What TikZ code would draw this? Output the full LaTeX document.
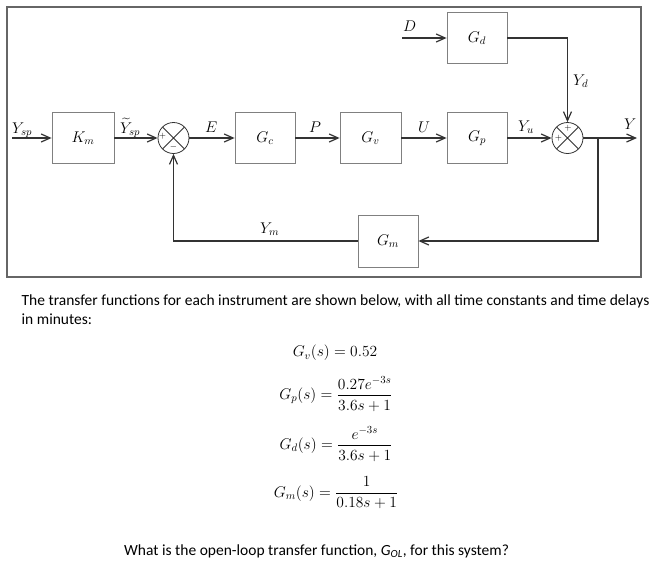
\RequirePackage{fix-cm}
\documentclass[tikz,border=0pt]{standalone}
\usepackage{amsmath}
\usepackage{fontspec}
\newfontfamily\carl{Carlito}
\usetikzlibrary{arrows.meta}
\begin{document}
\begin{tikzpicture}[x=1pt,y=-1pt,
  blk/.style={draw=black!50, line width=0.8pt, minimum width=60pt, minimum height=51pt, inner sep=0pt, font=\fontsize{15.5}{18}\selectfont},
  sig/.style={draw=black!80, line width=1.2pt},
  arr/.style={sig, -{Straight Barb[length=9pt,width=8pt]}},
  sumj/.style={circle, draw=black!80, line width=0.8pt, minimum size=31pt, inner sep=0pt,
    path picture={\draw[black!80,line width=0.8pt]
      (path picture bounding box.north west) -- (path picture bounding box.south east)
      (path picture bounding box.north east) -- (path picture bounding box.south west);}},
  lbl/.style={anchor=base west, inner sep=0pt, font=\fontsize{15.5}{18}\selectfont},
  sgn/.style={inner sep=0pt, font=\fontsize{9}{9}\selectfont},
  txt/.style={anchor=base west, inner sep=0pt, font=\carl\fontsize{15.5}{18}\selectfont},
  eqn/.style={inner sep=0pt, font=\fontsize{15.5}{18}\selectfont},
]
\useasboundingbox (0,0) rectangle (662,574);
\fill[white] (0,0) rectangle (662,574);
% frame
\draw[draw=black!60, line width=1.6pt] (7,7) rectangle (641,277);
% blocks
\node[blk, minimum width=62pt] (km) at (83,138) {$K_m$};
\node[blk] (gc) at (265,138) {$G_c$};
\node[blk, minimum width=61pt] (gv) at (370.5,138) {$G_v$};
\node[blk] (gp) at (477,138) {$G_p$};
\node[blk] (gd) at (477,38) {$G_d$};
\node[blk, minimum height=52pt] (gm) at (388,241) {$G_m$};
% summing junctions
\node[sumj] (s1) at (173.5,138) {};
\node[sumj] (s2) at (567.5,138) {};
\node[sgn] (s1p) at (162.5,136.5) {$+$};
\node[sgn] (s1m) at (173.5,147) {$-$};
\node[sgn] (s2t) at (568,128) {$+$};
\node[sgn] (s2l) at (558.5,138.5) {$+$};
% free ends
\coordinate (in) at (12,138);
\coordinate (out) at (637,138);
\coordinate (br) at (598,138);
\coordinate (din) at (402,38);
% connectors
\draw[arr] (in) -- (km);
\draw[arr] (km) -- (s1);
\draw[arr] (s1) -- (gc);
\draw[arr] (gc) -- (gv);
\draw[arr] (gv) -- (gp);
\draw[arr] (gp) -- (s2);
\draw[arr] (s2) -- (out);
\draw[arr] (br) |- (gm);
\draw[arr] (gm) -| (s1);
\draw[arr] (din) -- (gd);
\draw[arr] (gd) -| (s2);
% signal labels
\node[lbl] (lysp) at (12,133) {$Y_{sp}$};
\node[lbl] (lytsp) at (120,133) {$\widetilde{Y}_{sp}$};
\node[lbl] (le) at (205,132) {$E$};
\node[lbl] (lp) at (309,132) {$P$};
\node[lbl] (lu) at (418,132) {$U$};
\node[lbl] (lyu) at (518,131) {$Y_u$};
\node[lbl] (ly) at (624,129) {$Y$};
\node[lbl] (ld) at (403,31) {$D$};
\node[lbl] (lyd) at (573,85) {$Y_d$};
\node[lbl] (lym) at (260,233) {$Y_m$};
% text
\node[txt] (t1) at (21.5,305) {The transfer functions for each instrument are shown below, with all time constants and time delays};
\node[txt] (t2) at (21.5,324) {in minutes:};
\node[eqn] (e1) at (335,353) {$G_v(s) = 0.52$};
\node[eqn] (e2) at (336,394) {$G_p(s) = \dfrac{0.27e^{-3s}}{3.6s+1}$};
\node[eqn] (e3) at (336,444) {$G_d(s) = \dfrac{e^{-3s}}{3.6s+1}$};
\node[eqn] (e4) at (336,493) {$G_m(s) = \dfrac{1}{0.18s+1}$};
\node[txt] (q) at (124,555) {What is the open-loop transfer function, {\itshape G}\textsubscript{\itshape OL}, for this system?};
\end{tikzpicture}
\end{document}
